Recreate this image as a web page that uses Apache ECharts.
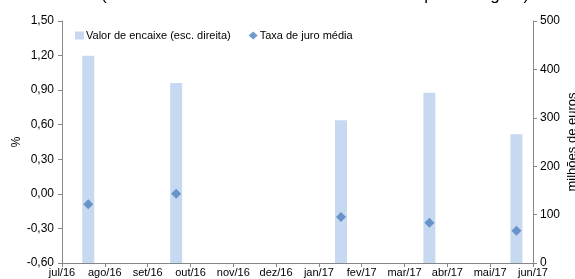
<!DOCTYPE html>
<html>
<head>
<meta charset="utf-8">
<script src="https://cdn.jsdelivr.net/npm/echarts@6/dist/echarts.min.js"></script>
<style>
html,body{margin:0;padding:0;background:#fff;}
#c{width:575px;height:279px;}
</style>
</head>
<body>
<div id="c"></div>
<script>
// Data
var monthLabels = ['jul/16','ago/16','set/16','out/16','nov/16','dez/16','jan/17','fev/17','mar/17','abr/17','mai/17','jun/17'];
var issueDates = ['2016-07-20','2016-09-21','2017-01-17','2017-03-19','2017-05-20'];
var encaixe = [428, 372, 295, 352, 266];      // milhões de euros (right axis)
var taxa = [-0.09, 0.00, -0.20, -0.25, -0.32];   // % (left axis)
var titleText = '(montante em milhões de euros e taxa em percentagem)';

function monthPos(s){
  var p = s.split('-').map(Number);
  var y = p[0], m = p[1], d = p[2];
  var dim = new Date(y, m, 0).getDate();
  return (y - 2016) * 12 + (m - 7) + (d - 1) / dim;
}
var barData = issueDates.map(function(d,i){ return [monthPos(d), encaixe[i]]; });
var dotData = issueDates.map(function(d,i){ return [monthPos(d), taxa[i]]; });

var font = 'Liberation Sans, Arial, sans-serif';
var axisGray = '#868686';

var chart = echarts.init(document.getElementById('c'), null, {renderer:'canvas'});
chart.setOption({
  animation:false,
  textStyle:{fontFamily:font},
  title:{
    text:titleText, left:96, top:-18,
    textStyle:{fontFamily:font, fontSize:17, fontWeight:'normal', color:'#000'}
  },
  legend:{
    left:75, top:30, padding:0, itemGap:18, itemWidth:9, itemHeight:8,
    textStyle:{fontFamily:font, fontSize:11, color:'#000', padding:[0,0,0,-3]},
    data:[
      {name:'Valor de encaixe (esc. direita)', icon:'rect'},
      {name:'Taxa de juro média', icon:'diamond'}
    ]
  },
  grid:{left:62, right:42, top:21, bottom:16, containLabel:false, outerBoundsMode:'none'},
  xAxis:{
    type:'value', min:0, max:11, interval:1,
    axisLine:{show:true, onZero:false, lineStyle:{color:axisGray}},
    axisTick:{show:true, length:4, lineStyle:{color:axisGray}},
    splitLine:{show:false},
    axisLabel:{
      fontSize:11, color:'#000', margin:4, fontFamily:font,
      formatter:function(v){ return monthLabels[Math.round(v)] || ''; }
    }
  },
  yAxis:[
    {
      type:'value', min:-0.6, max:1.5, interval:0.3, position:'left',
      name:'%', nameLocation:'middle', nameGap:39, nameRotate:90, nameMoveOverlap:false,
      nameTextStyle:{fontFamily:font, fontSize:12, color:'#000'},
      axisLine:{show:true, lineStyle:{color:axisGray}},
      axisTick:{show:true, length:4, lineStyle:{color:axisGray}},
      splitLine:{show:false},
      axisLabel:{
        fontSize:12, color:'#000', margin:8, fontFamily:font,
        formatter:function(v){ return (Math.round(v*100)/100).toFixed(2).replace('.', ','); }
      }
    },
    {
      type:'value', min:0, max:500, interval:100, position:'right',
      name:'milhões de euros', nameLocation:'middle', nameGap:33, nameRotate:90, nameMoveOverlap:false,
      nameTextStyle:{fontFamily:font, fontSize:13, color:'#000'},
      axisLine:{show:true, lineStyle:{color:axisGray}},
      axisTick:{show:true, length:4, lineStyle:{color:axisGray}},
      splitLine:{show:false},
      axisLabel:{fontSize:12, color:'#000', margin:7, fontFamily:font}
    }
  ],
  series:[
    {
      name:'Valor de encaixe (esc. direita)', type:'bar', yAxisIndex:1,
      barWidth:12, data:barData,
      itemStyle:{color:'#C6D9F1'}
    },
    {
      name:'Taxa de juro média', type:'scatter', yAxisIndex:0,
      symbol:'diamond', symbolSize:10, data:dotData, z:5,
      itemStyle:{color:'#4F81BD'}
    }
  ]
});
</script>
</body>
</html>
